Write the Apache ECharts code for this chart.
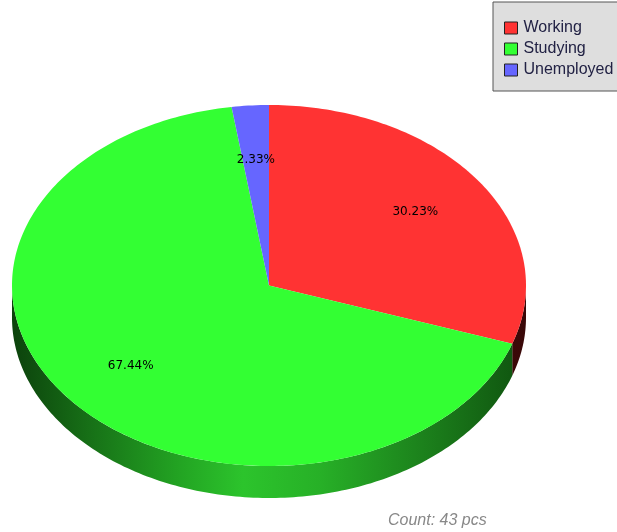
<!DOCTYPE html>
<html>
<head>
<meta charset="utf-8">
<title>Occupation</title>
<script src="https://cdn.jsdelivr.net/npm/echarts@6/dist/echarts.min.js"></script>
<style>
  html, body { margin: 0; padding: 0; background: #ffffff; }
  #chart { width: 617px; height: 532px; }
</style>
</head>
<body>
<div id="chart"></div>
<script>
// Respondent counts per category
const categories = ['Working', 'Studying', 'Unemployed'];
const counts = [13, 29, 1];
const footerText = 'Count: 43 pcs';

// Slice styling
const topColors = ['#ff3333', '#33ff33', '#6666ff'];
const sideStops = [
  [['#3a0808', 0], ['#5a1010', 0.5], ['#3a0808', 1]],
  [['#0c420c', 0], ['#177017', 0.15], ['#23a523', 0.33], ['#2cc42c', 0.45], ['#27b027', 0.6], ['#1c811c', 0.8], ['#0f520f', 1]],
  [['#1a1a55', 0], ['#3333aa', 0.5], ['#1a1a55', 1]]
];

// Ellipse geometry of the tilted pie
const CX = 269, CY = 285.5, RX = 257, RY = 180.5, DEPTH = 32;
const LABEL_R = 0.7;

const total = counts.reduce((a, b) => a + b, 0);
const starts = [];
counts.reduce((acc, v, i) => { starts[i] = acc; return acc + v; }, 0);

// angle in degrees, clockwise from 12 o'clock
function pt(deg, k, dy) {
  const r = deg * Math.PI / 180;
  return [CX + RX * k * Math.sin(r), CY - RY * k * Math.cos(r) + (dy || 0)];
}
function arc(a0, a1, dy) {
  const n = Math.max(2, Math.ceil(Math.abs(a1 - a0) / 1));
  const out = [];
  for (let j = 0; j <= n; j++) out.push(pt(a0 + (a1 - a0) * j / n, 1, dy));
  return out;
}

function makeRender(i) {
  return function (params, api) {
    const v = api.value(0);
    const a0 = starts[i] / total * 360;
    const a1 = a0 + v / total * 360;
    const children = [];

    // visible wall: the front half of the ellipse (90..270 degrees)
    const s0 = Math.max(a0, 90), s1 = Math.min(a1, 270);
    if (s1 > s0) {
      const topArc = arc(s0, s1, 0);
      const botArc = arc(s1, s0, DEPTH);
      children.push({
        type: 'polygon',
        z2: 1,
        shape: { points: topArc.concat(botArc) },
        style: {
          fill: {
            type: 'linear', global: true,
            x: CX - RX, y: 0, x2: CX + RX, y2: 0,
            colorStops: sideStops[i].map(s => ({ color: s[0], offset: s[1] }))
          },
          stroke: null
        }
      });
    }

    // top face
    children.push({
      type: 'polygon',
      z2: 2,
      shape: { points: [[CX, CY]].concat(arc(a0, a1, 0)) },
      style: { fill: api.visual('color'), stroke: null }
    });

    // percentage label
    const mid = (a0 + a1) / 2;
    const lp = pt(mid, LABEL_R, 0);
    children.push({
      type: 'text',
      z2: 10,
      x: lp[0], y: lp[1],
      style: {
        text: (v / total * 100).toFixed(2) + '%',
        fill: '#000000',
        font: '12px "DejaVu Sans", sans-serif',
        align: 'center',
        verticalAlign: 'middle'
      }
    });

    return { type: 'group', children: children };
  };
}

const chart = echarts.init(document.getElementById('chart'), null, { renderer: 'canvas' });
chart.setOption({
  animation: false,
  backgroundColor: '#ffffff',
  color: topColors,
  legend: {
    orient: 'vertical',
    left: 493, top: 2,
    padding: [18, 30, 13, 11],
    itemWidth: 13, itemHeight: 12, itemGap: 5,
    icon: 'rect',
    backgroundColor: '#dedede',
    borderColor: '#555555', borderWidth: 1, borderRadius: 0,
    itemStyle: { borderColor: '#222222', borderWidth: 1 },
    textStyle: { fontFamily: '"Liberation Sans", Arial, sans-serif', fontSize: 16, color: '#222244', padding: [0, 0, 0, 1] },
    data: categories
  },
  graphic: [{
    type: 'text',
    left: 388, top: 513,
    style: {
      text: footerText,
      fill: '#888888',
      font: 'italic 16px "Liberation Sans", Arial, sans-serif'
    }
  }],
  series: categories.map((name, i) => ({
    type: 'custom',
    name: name,
    coordinateSystem: 'none',
    renderItem: makeRender(i),
    data: [counts[i]],
    silent: true
  }))
});
</script>
</body>
</html>
